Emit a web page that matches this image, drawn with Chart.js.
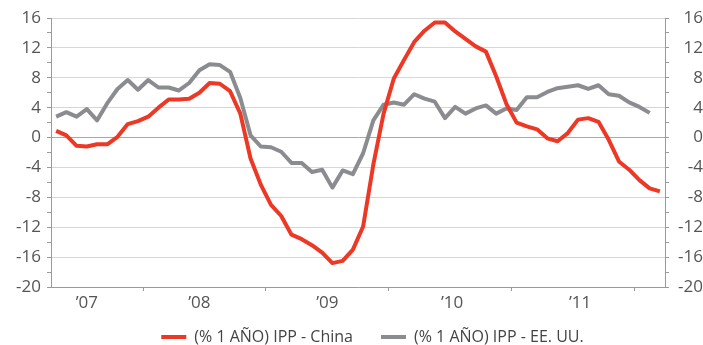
<!DOCTYPE html>
<html>
<head>
<meta charset="utf-8">
<script src="https://cdn.jsdelivr.net/npm/chart.js@4.4.1/dist/chart.umd.min.js"></script>
<style>
  html, body { margin: 0; padding: 0; background: #fff; }
  #wrap { width: 703px; height: 345px; }
</style>
</head>
<body>
<div id="wrap"><canvas id="js-canvas-ipp"></canvas></div>
<script>
// monthly readings, index 0 = Apr 2007, last = Mar 2012
const chinaPPI = [
  0.9, 0.3, -1.1, -1.2, -0.9, -0.9, 0.1, 1.8, 2.2, 2.8, 4.0, 5.1,
  5.1, 5.2, 6.0, 7.3, 7.2, 6.2, 3.2, -2.8, -6.3, -9.0, -10.5, -13.0,
  -13.6, -14.4, -15.4, -16.8, -16.5, -15.0, -11.9, -3.6, 3.2, 7.9, 10.4, 12.8,
  14.3, 15.4, 15.4, 14.2, 13.2, 12.2, 11.5, 8.2, 4.5, 2.0, 1.5, 1.1,
  -0.1, -0.5, 0.6, 2.4, 2.6, 2.1, -0.3, -3.2, -4.3, -5.7, -6.8, -7.2
];
const usPPI = [
  2.8, 3.4, 2.8, 3.8, 2.3, 4.6, 6.5, 7.7, 6.4, 7.7, 6.7, 6.7,
  6.3, 7.3, 9.0, 9.8, 9.7, 8.8, 5.3, 0.3, -1.2, -1.3, -1.9, -3.4,
  -3.4, -4.6, -4.3, -6.7, -4.4, -4.9, -2.1, 2.3, 4.4, 4.7, 4.4, 5.8,
  5.2, 4.8, 2.6, 4.1, 3.2, 3.9, 4.3, 3.2, 3.9, 3.7, 5.4, 5.4,
  6.1, 6.6, 6.8, 7.0, 6.5, 7.0, 5.8, 5.6, 4.7, 4.1, 3.3
];
const yearLabels = ['\u201907', '\u201908', '\u201909', '\u201910', '\u201911'];
const yearLabelAt = [3, 14, 26.5, 38.7, 51.2];   // month index where each year label sits
const yearBreaks = [8.5, 20.5, 32.5, 44.5, 56.5];  // Jan boundaries
const seriesNames = ['(% 1 A\u00d1O) IPP - China', '(% 1 A\u00d1O) IPP - EE. UU.'];

const RED = '#ec3825';
const GREY = '#8b8c90';
const TEXT = '#555';
const font = { family: "'Open Sans', sans-serif", size: 17 };

const toPoints = (vals) => vals.map((v, i) => ({ x: i, y: v }));

const yAxis = (side) => ({
  type: 'linear',
  position: side,
  min: -20,
  max: 16,
  border: { color: '#9a9a9a', width: 1 },
  grid: {
    drawOnChartArea: side === 'left',
    tickLength: 4,
    tickColor: '#9a9a9a',
    lineWidth: 1,
    color: (c) => {
      const v = c.tick && c.tick.value;
      if (v === 0) return '#a8a8a8';
      return v % 4 === 0 ? '#d6d6d6' : 'rgba(0,0,0,0)';
    }
  },
  ticks: {
    stepSize: 2,
    autoSkip: false,
    color: TEXT,
    font: font,
    padding: 6,
    crossAlign: side === 'left' ? 'near' : 'far',
    callback: (v) => (v % 4 === 0 ? String(v) : '')
  },
  afterFit: (scale) => { scale.width = side === 'left' ? 51 : 38; }
});

// legend takes little room in the layout, then is drawn lower and a bit right of centre
const legendSpacing = {
  id: 'legendSpacing',
  beforeInit(chart) {
    const fit = chart.legend.fit;
    chart.legend.fit = function () {
      fit.call(this);
      this.height = 30;
    };
  },
  afterLayout(chart) {
    const lg = chart.legend;
    lg.left += 21;
    lg.right += 21;
    lg.top = 301;
    lg.bottom = 345;
  }
};

new Chart(document.getElementById('js-canvas-ipp'), {
  type: 'line',
  data: {
    datasets: [
      {
        label: seriesNames[0],
        data: toPoints(chinaPPI),
        borderColor: RED,
        backgroundColor: RED,
        borderWidth: 4,
        pointRadius: 0,
        tension: 0,
        borderJoinStyle: 'round',
        fill: false
      },
      {
        label: seriesNames[1],
        data: toPoints(usPPI),
        borderColor: GREY,
        backgroundColor: GREY,
        borderWidth: 4,
        pointRadius: 0,
        tension: 0,
        borderJoinStyle: 'round',
        fill: false
      }
    ]
  },
  options: {
    responsive: true,
    maintainAspectRatio: false,
    animation: false,
    layout: { padding: { top: 18, left: 0, right: 0, bottom: 0 } },
    scales: {
      x: {
        type: 'linear',
        position: 'bottom',
        min: -0.5,
        max: 59.5,
        border: { color: '#9a9a9a', width: 1 },
        grid: {
          drawOnChartArea: false,
          tickLength: 4,
          tickColor: (c) => (c.tick && yearBreaks.includes(c.tick.value) ? '#9a9a9a' : 'rgba(0,0,0,0)')
        },
        afterBuildTicks: (scale) => {
          scale.ticks = yearBreaks.concat(yearLabelAt)
            .sort((a, b) => a - b)
            .map((v) => ({ value: v }));
        },
        ticks: {
          autoSkip: false,
          maxRotation: 0,
          color: TEXT,
          font: font,
          padding: 2,
          callback: (value) => {
            const k = yearLabelAt.indexOf(value);
            return k >= 0 ? yearLabels[k] : '';
          }
        },
        afterFit: (scale) => { scale.height = 28; }
      },
      y: yAxis('left'),
      y1: yAxis('right')
    },
    plugins: {
      tooltip: { enabled: false },
      legend: {
        position: 'bottom',
        labels: {
          boxWidth: 25,
          boxHeight: 4,
          padding: 28,
          color: '#444',
          font: { family: "'Open Sans', sans-serif", size: 16 },
          generateLabels: (chart) =>
            Chart.defaults.plugins.legend.labels.generateLabels(chart)
              .map((item) => Object.assign(item, { lineWidth: 0 }))
        }
      }
    }
  },
  plugins: [legendSpacing]
});
</script>
</body>
</html>
